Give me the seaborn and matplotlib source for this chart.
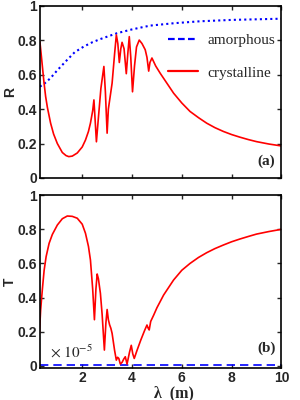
import matplotlib
matplotlib.use('Agg')
import matplotlib.pyplot as plt
from matplotlib.lines import Line2D
import seaborn as sns
import pandas as pd

# wavelength / reflectance for crystalline
x_r_cry = [0.3, 0.35, 0.4, 0.46, 0.53, 0.6, 0.73, 0.85, 1.0, 1.2, 1.35, 1.46, 1.6, 1.8, 2.0,
           2.13, 2.25, 2.33, 2.42, 2.47, 2.57, 2.65, 2.75, 2.87, 2.93, 3.0, 3.05, 3.1,
           3.2, 3.3, 3.37, 3.43, 3.49, 3.55, 3.6, 3.68, 3.77, 3.83, 3.89, 3.95, 4.02,
           4.1, 4.18, 4.29, 4.4, 4.53, 4.6, 4.67, 4.72, 4.8, 4.95, 5.13, 5.4, 5.67,
           6.0, 6.33, 6.67, 7.0, 7.33, 7.67, 8.0, 8.33, 8.67, 9.0, 9.5, 10.0]
r_cry = [0.79, 0.72, 0.647, 0.56, 0.473, 0.41, 0.318, 0.255, 0.2, 0.148, 0.13, 0.124, 0.127, 0.145, 0.18,
         0.22, 0.27, 0.318, 0.39, 0.453, 0.21, 0.35, 0.52, 0.647, 0.5, 0.26, 0.4, 0.45,
         0.55, 0.72, 0.83, 0.78, 0.67, 0.75, 0.787, 0.75, 0.605, 0.72, 0.82, 0.7, 0.50,
         0.65, 0.76, 0.80, 0.78, 0.744, 0.70, 0.62, 0.67, 0.696, 0.65, 0.608, 0.55, 0.492,
         0.435, 0.386, 0.35, 0.318, 0.292, 0.27, 0.252, 0.237, 0.223, 0.211, 0.197, 0.186]

# reflectance for amorphous
x_r_amo = [0.3, 0.5, 0.73, 1.0, 1.4, 1.7, 2.07, 2.4, 2.73, 3.4, 4.0, 4.73, 5.7, 6.73, 8.0, 10.0]
r_amo = [0.53, 0.55, 0.58, 0.625, 0.686, 0.73, 0.763, 0.787, 0.806, 0.84, 0.862, 0.884,
         0.898, 0.909, 0.917, 0.924]

# transmittance for crystalline
x_t_cry = [0.28, 0.33, 0.4, 0.47, 0.55, 0.67, 0.8, 1.0, 1.2, 1.4, 1.6, 1.8, 2.0, 2.13,
           2.25, 2.33, 2.42, 2.49, 2.55, 2.6, 2.65, 2.73, 2.8, 2.89, 2.95, 3.0, 3.05,
           3.1, 3.15, 3.2, 3.3, 3.37, 3.42, 3.47, 3.53, 3.6, 3.67, 3.73, 3.8, 3.9, 3.97,
           4.03, 4.09, 4.2, 4.35, 4.5, 4.6, 4.65, 4.69, 4.75, 4.87, 5.0, 5.27, 5.67, 6.0,
           6.33, 6.67, 7.0, 7.33, 7.67, 8.0, 8.33, 8.67, 9.0, 9.5, 10.0]
t_cry = [0.19, 0.327, 0.45, 0.56, 0.64, 0.718, 0.77, 0.825, 0.862, 0.878, 0.876, 0.865, 0.83, 0.777,
         0.70, 0.62, 0.45, 0.27, 0.45, 0.538, 0.51, 0.425, 0.3, 0.092, 0.25, 0.33, 0.27,
         0.24, 0.22, 0.19, 0.09, 0.033, 0.05, 0.043, 0.01, 0.02, 0.04, 0.053, 0.01, 0.08, 0.12,
         0.07, 0.043, 0.09, 0.15, 0.205, 0.239, 0.22, 0.21, 0.26, 0.297, 0.34, 0.415, 0.503, 0.56,
         0.60, 0.635, 0.663, 0.687, 0.708, 0.727, 0.743, 0.758, 0.772, 0.787, 0.80]

# transmittance for amorphous (scaled x 1e-5)
x_t_amo = [0.3, 2.0, 4.0, 6.0, 8.0, 10.0]
t_amo = [0.002, 0.002, 0.002, 0.002, 0.002, 0.002]

yticks = [0, 0.2, 0.4, 0.6, 0.8, 1]
ytick_labels = ['0', '0.2', '0.4', '0.6', '0.8', '1']
xticks = [2, 4, 6, 8, 10]
xtick_labels = ['2', '4', '6', '8', '10']

sns.set_theme(style='ticks')
plt.rcParams.update({
    'font.family': ['Liberation Sans', 'DejaVu Sans'],
    'font.serif': ['Liberation Serif', 'DejaVu Serif'],
    'mathtext.fontset': 'stix',
    'xtick.direction': 'in',
    'ytick.direction': 'in',
    'xtick.top': True,
    'ytick.right': True,
    'xtick.major.size': 3,
    'ytick.major.size': 3,
    'axes.linewidth': 1.2,
    'axes.edgecolor': 'black',
})

fig = plt.figure(figsize=(3, 4), dpi=100)
ax1 = fig.add_axes([0.133, 0.555, 0.805, 0.431])
ax2 = fig.add_axes([0.133, 0.080, 0.805, 0.432])

df_r_cry = pd.DataFrame({'x': x_r_cry, 'y': r_cry})
df_r_amo = pd.DataFrame({'x': x_r_amo, 'y': r_amo})
df_t_cry = pd.DataFrame({'x': x_t_cry, 'y': t_cry})
df_t_amo = pd.DataFrame({'x': x_t_amo, 'y': t_amo})

sns.lineplot(data=df_r_amo, x='x', y='y', ax=ax1, color='#0000ff', lw=1.5,
             linestyle=(0, (1, 1.5)), estimator=None, sort=False)
sns.lineplot(data=df_r_cry, x='x', y='y', ax=ax1, color='#ff0000', lw=1.2,
             estimator=None, sort=False)
sns.lineplot(data=df_t_amo, x='x', y='y', ax=ax2, color='#0000ff', lw=1.2,
             linestyle=(0, (5, 3)), estimator=None, sort=False)
sns.lineplot(data=df_t_cry, x='x', y='y', ax=ax2, color='#ff0000', lw=1.2,
             estimator=None, sort=False)

for ax, lab, ylo in [(ax1, 'R', 0), (ax2, 'T', -0.013)]:
    ax.set_xlim(0.3, 10)
    ax.set_ylim(ylo, 1)
    ax.set_xticks(xticks)
    ax.set_yticks(yticks)
    ax.set_yticklabels(ytick_labels, fontsize=10, fontweight='bold')
    ax.set_ylabel(lab, fontsize=10, fontweight='bold')
    ax.yaxis.set_label_coords(-0.095, 0.5)
    ax.tick_params(pad=2, width=1)

ax1.set_xticklabels([])
ax1.set_xlabel('')
ax2.set_xticklabels(xtick_labels, fontsize=10, fontweight='bold')
ax2.set_xlabel('λ  (m)', family='serif', fontsize=11.5, fontweight='bold')
ax2.xaxis.set_label_coords(0.555, -0.1)

ax1.text(0.975, 0.10, '(a)', transform=ax1.transAxes, ha='right', va='center',
         family='serif', fontweight='bold', fontsize=11)
ax2.text(0.975, 0.115, '(b)', transform=ax2.transAxes, ha='right', va='center',
         family='serif', fontweight='bold', fontsize=11)
ax2.text(0.04, 0.09, r'$\times\ 10^{-5}$', transform=ax2.transAxes, ha='left',
         va='center', fontsize=11)

handles = [Line2D([0], [0], color='#0000ff', lw=1.6, linestyle=(0, (3, 1.5))),
           Line2D([0], [0], color='#ff0000', lw=1.6)]
leg = ax1.legend(handles, ['amorphous', 'crystalline'], loc='center left',
                 bbox_to_anchor=(0.53, 0.705), frameon=False, borderpad=0,
                 borderaxespad=0, handlelength=2.0, handletextpad=0.6,
                 labelspacing=1.25, prop={'family': 'serif', 'size': 11})

plt.savefig('out.png', dpi=100)
